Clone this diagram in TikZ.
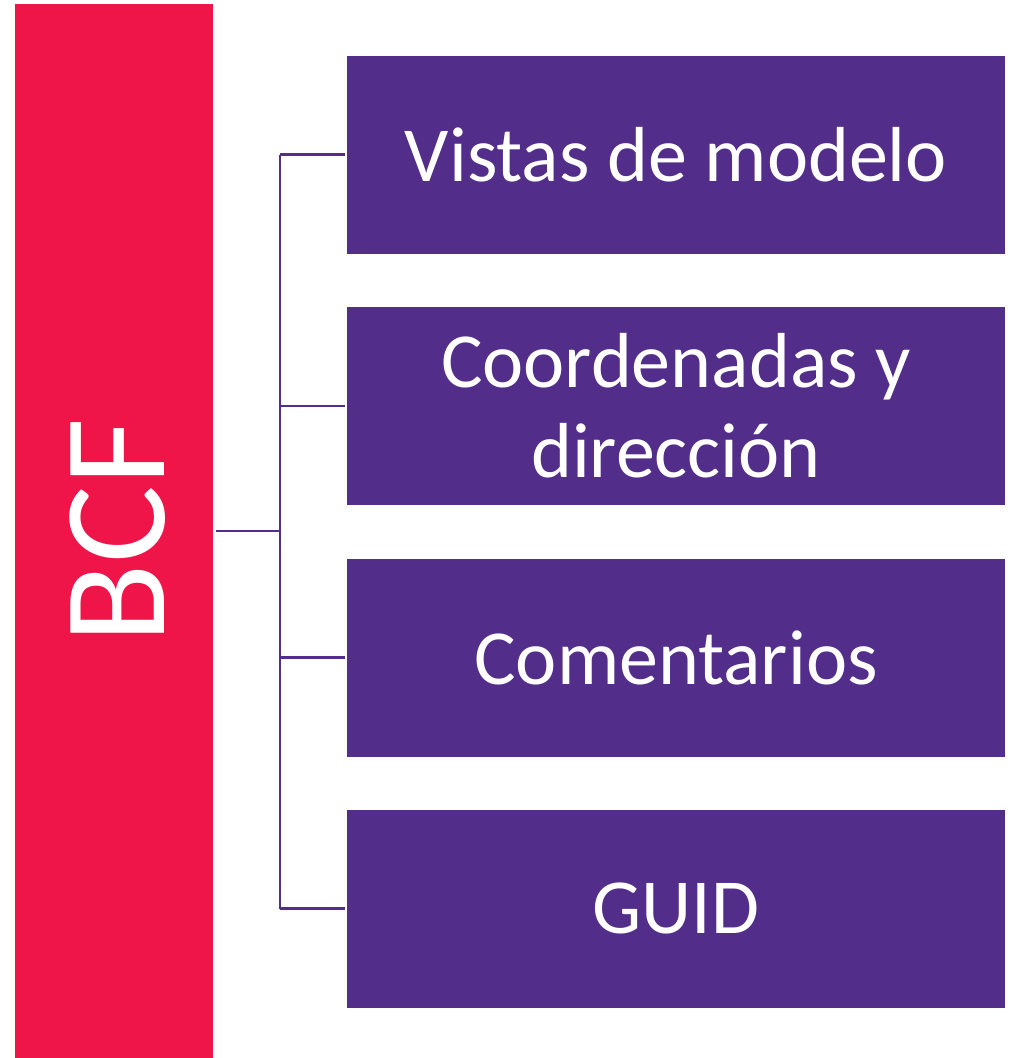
\documentclass[tikz,border=0pt]{standalone}
\usepackage{fontspec}
\setmainfont{Carlito}
\usepackage{tikz}
\usetikzlibrary{positioning}

\definecolor{bcfred}{HTML}{EF1549}
\definecolor{bcfpurple}{HTML}{532D8A}

\tikzset{
  mainbox/.style={fill=bcfred, draw=none, minimum width=198pt, minimum height=1054pt, inner sep=0pt},
  itembox/.style={fill=bcfpurple, draw=none, minimum width=658pt, minimum height=198pt, inner sep=0pt,
    text=white, align=center, font=\fontsize{78}{90}\selectfont},
  link/.style={draw=bcfpurple, line width=2.5pt}
}

\begin{document}
\begin{tikzpicture}[x=1pt, y=-1pt]
\useasboundingbox (0,0) rectangle (1012,1058);

\node [mainbox] (bcf) at (114,531){};
\node [rotate=90, text=white, font=\fontsize{146}{150}\selectfont] (bcftext) at (118,531){BCF};

\node [itembox] (vistas) at (676,154.5){Vistas de modelo};
\node [itembox] (coord) at (676,406){Coordenadas y\\dirección};
\node [itembox] (coment) at (676,657.5){Comentarios};
\node [itembox] (guid) at (676,908.5){GUID};

\coordinate (trunk) at (280,531);

\draw[link, shorten <=3pt] (bcf.east |- trunk) -- (trunk);
\draw[link] (trunk |- vistas.west) -- (trunk |- guid.west);
\draw[link, shorten >=2pt] (trunk |- vistas.west) -- (vistas.west);
\draw[link, shorten >=2pt] (trunk |- coord.west) -- (coord.west);
\draw[link, shorten >=2pt] (trunk |- coment.west) -- (coment.west);
\draw[link, shorten >=2pt] (trunk |- guid.west) -- (guid.west);

\end{tikzpicture}
\end{document}
